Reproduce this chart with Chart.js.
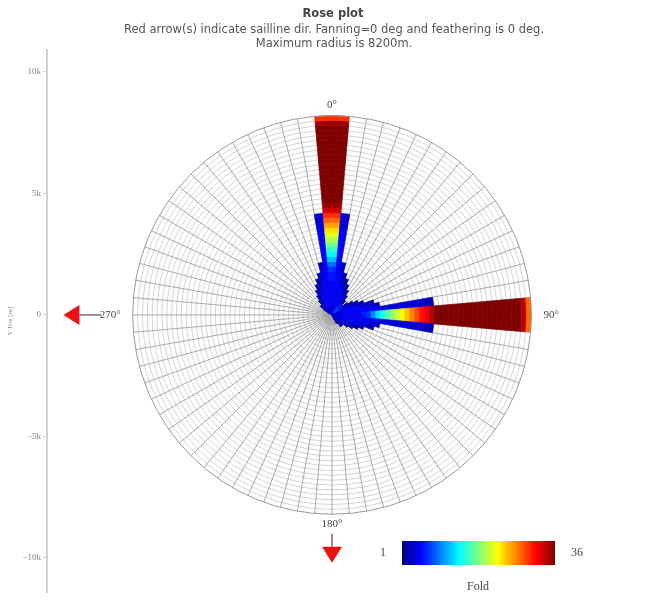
<!DOCTYPE html>
<html>
<head>
<meta charset="utf-8">
<title>Rose plot</title>
<script src="https://cdn.jsdelivr.net/npm/chart.js@4.4.1/dist/chart.umd.min.js"></script>
<style>
html, body { margin: 0; padding: 0; background: #fff; }
#wrap { width: 654px; height: 606px; position: relative; }
</style>
</head>
<body>
<div id="wrap"><canvas id="rose"></canvas></div>
<script>
// Dados do gráfico (fold por célula de 5 graus x 200 m)
const maxRadius = 8200;
const ringStep = 200;
const sectorStep = 5;
const foldMin = 1;
const foldMax = 36;

const yTicks = [-10000, -5000, 0, 5000, 10000];
const yTickLabels = ['−10k', '−5k', '0', '5k', '10k'];

const angleLabelAz = [0, 90, 180, 270];
const angleLabels = ['0°', '90°', '180°', '270°'];

// leque norte: perfil central e perfis laterais (um por setor afastado do eixo)
const northAzimuth = 0;
const northCenter = [4,4,5,5,5,5,5,6,6,7, 9,12,14,16,18,20,22,24,26,28,30,
  33,35,36,36,36,36,36,36,36,36,36,36,36,36,36,36,36,36,35,30];
const northSides = [
  [4,4,5,5,5,5,5,5,5,5,5,5,5,5,5,5,5,5,4,4,4],
  [4,4,5,5,5,5,5,5,5,4,3],
  [4,4,5,5,5,5,4,3,3],
  [4,4,5,5,5,4,3,2],
  [4,4,5,5,4,3,2],
  [4,4,4,4,3,2],
  [4,4,4,3,2],
  [4,4,4,2],
  [4,4,3],
  [4,3,2],
  [3,3],
  [3]
];

// leque leste
const eastAzimuth = 90;
const eastCenter = [4,4,5,5,5,5,6,7,10,13,15,17,19,21,23,25,27,29,31,32,34,
  36,36,36,36,36,36,36,36,36,36,36,36,36,36,36,36,36,36,34,28];
const eastSides = [
  [4,4,5,5,5,5,5,5,5,5,4,4,4,4,4,4,4,4,4,3,3],
  [4,4,5,5,5,5,5,5,4,3],
  [4,4,5,5,5,5,4,3,3],
  [4,4,5,5,4,3,2],
  [4,4,4,4,3,2],
  [4,4,4,3,2],
  [4,4,4,2],
  [4,4,3],
  [4,3,2],
  [3,3,2],
  [3,3],
  [3,2],
  [3]
];

// setas de direção das linhas (azimute, raio da cauda e da ponta em m)
const arrowAz = [270, 180];
const arrowTail = [9500, 9000];
const arrowTip = [11050, 10200];

// Montagem das células
const cells = {};
function addFan(az, profiles) {
  profiles.forEach((prof, k) => {
    [az + sectorStep * k, az - sectorStep * (k + 1)].forEach(s => {
      const key = ((s % 360) + 360) % 360;
      const arr = cells[key] || (cells[key] = []);
      prof.forEach((f, i) => { arr[i] = (arr[i] || 0) + f; });
    });
  });
}
addFan(northAzimuth, [northCenter, ...northSides]);
addFan(eastAzimuth, [eastCenter, ...eastSides]);

function jet(f) {
  const t = Math.min(1, Math.max(0, (f - foldMin) / (foldMax - foldMin)));
  const c = v => Math.round(255 * Math.min(1, Math.max(0, v)));
  return `rgb(${c(1.5 - Math.abs(4 * t - 3))},${c(1.5 - Math.abs(4 * t - 2))},${c(1.5 - Math.abs(4 * t - 1))})`;
}

const rad = d => d * Math.PI / 180;

const rosePlugin = {
  id: 'rose',
  beforeDatasetsDraw(chart) {
    const { ctx, scales: { x, y } } = chart;
    const cx = x.getPixelForValue(0);
    const cy = y.getPixelForValue(0);
    const rx = r => x.getPixelForValue(r) - cx;
    const ry = r => cy - y.getPixelForValue(r);
    const ang = az => rad(az - 90);
    const pt = (az, r) => [x.getPixelForValue(r * Math.sin(rad(az))), y.getPixelForValue(r * Math.cos(rad(az)))];
    const rings = Math.round(maxRadius / ringStep);

    ctx.save();

    // grade polar
    ctx.lineWidth = 1;
    ctx.strokeStyle = '#d4d4d4';
    for (let i = 1; i < rings; i++) {
      ctx.beginPath();
      ctx.ellipse(cx, cy, rx(i * ringStep), ry(i * ringStep), 0, 0, Math.PI * 2);
      ctx.stroke();
    }
    ctx.strokeStyle = '#a2a2a2';
    ctx.lineWidth = 0.9;
    for (let az = 0; az < 360; az += sectorStep) {
      const [px, py] = pt(az, maxRadius);
      ctx.beginPath();
      ctx.moveTo(cx, cy);
      ctx.lineTo(px, py);
      ctx.stroke();
    }

    // células coloridas
    ctx.lineWidth = 0.6;
    Object.keys(cells).forEach(key => {
      const s = +key;
      cells[key].forEach((f, i) => {
        if (!f) return;
        const r0 = i * ringStep, r1 = (i + 1) * ringStep;
        const a0 = ang(s), a1 = ang(s + sectorStep);
        ctx.beginPath();
        ctx.ellipse(cx, cy, rx(r1), ry(r1), 0, a0, a1);
        ctx.ellipse(cx, cy, rx(r0), ry(r0), 0, a1, a0, true);
        ctx.closePath();
        ctx.fillStyle = jet(f);
        ctx.strokeStyle = jet(f);
        ctx.fill();
        ctx.stroke();
      });
    });

    // contorno
    ctx.lineWidth = 1;
    ctx.strokeStyle = '#999';
    ctx.beginPath();
    ctx.ellipse(cx, cy, rx(maxRadius), ry(maxRadius), 0, 0, Math.PI * 2);
    ctx.stroke();

    // rótulos de ângulo
    ctx.font = '11px "Liberation Serif"';
    ctx.fillStyle = '#444';
    angleLabelAz.forEach((az, i) => {
      const side = az === 90 || az === 270;
      const [px, py] = pt(az, side ? 8700 : 8400);
      ctx.textAlign = az === 90 ? 'left' : az === 270 ? 'right' : 'center';
      ctx.textBaseline = az === 0 ? 'bottom' : az === 180 ? 'top' : 'middle';
      ctx.fillText(angleLabels[i], px, py);
    });

    // setas
    arrowAz.forEach((az, i) => {
      const [tx, ty] = pt(az, arrowTail[i]);
      const [hx, hy] = pt(az, arrowTip[i]);
      const len = Math.hypot(hx - tx, hy - ty);
      const ux = (hx - tx) / len, uy = (hy - ty) / len;
      const bx = hx - ux * 16, by = hy - uy * 16;
      ctx.strokeStyle = '#6a3a3a';
      ctx.lineWidth = 1.2;
      ctx.beginPath();
      ctx.moveTo(tx, ty);
      ctx.lineTo(bx, by);
      ctx.stroke();
      ctx.fillStyle = '#ee1111';
      ctx.beginPath();
      ctx.moveTo(hx, hy);
      ctx.lineTo(bx - uy * 10, by + ux * 10);
      ctx.lineTo(bx + uy * 10, by - ux * 10);
      ctx.closePath();
      ctx.fill();
    });

    ctx.restore();
  },
  afterDraw(chart) {
    const { ctx } = chart;
    ctx.save();
    // títulos
    ctx.textAlign = 'center';
    ctx.textBaseline = 'middle';
    ctx.fillStyle = '#444';
    ctx.font = 'bold 11.5px "DejaVu Sans"';
    ctx.fillText('Rose plot', 333, 14);
    ctx.fillStyle = '#555';
    ctx.font = '11.5px "DejaVu Sans"';
    ctx.fillText('Red arrow(s) indicate sailline dir. Fanning=0 deg and feathering is 0 deg.', 334, 30);
    ctx.fillText('Maximum radius is 8200m.', 334, 44);

    // barra de cores
    const x0 = 402, x1 = 555, y0 = 541, h = 24;
    const grad = ctx.createLinearGradient(x0, 0, x1, 0);
    for (let k = 0; k <= 16; k++) {
      grad.addColorStop(k / 16, jet(foldMin + (foldMax - foldMin) * k / 16));
    }
    ctx.fillStyle = grad;
    ctx.fillRect(x0, y0, x1 - x0, h);
    ctx.fillStyle = '#444';
    ctx.font = '12px "Liberation Serif"';
    ctx.fillText(String(foldMin), 383, y0 + h / 2);
    ctx.fillText(String(foldMax), 577, y0 + h / 2);
    ctx.fillText('Fold', 478, 587);
    ctx.restore();
  }
};

const xMin = -11726, xMax = 11849;

new Chart(document.getElementById('rose'), {
  type: 'scatter',
  data: { datasets: [{ data: [], pointRadius: 0 }] },
  options: {
    responsive: true,
    maintainAspectRatio: false,
    animation: false,
    events: [],
    layout: { padding: { left: 0, right: 34, top: 50, bottom: 14 } },
    plugins: { legend: { display: false }, tooltip: { enabled: false } },
    scales: {
      x: { type: 'linear', min: xMin, max: xMax, display: false },
      y: {
        type: 'linear',
        min: -11400,
        max: 10900,
        afterBuildTicks: s => { s.ticks = yTicks.map(v => ({ value: v })); },
        afterFit: s => { s.width = 47; },
        ticks: {
          callback: v => yTickLabels[yTicks.indexOf(v)],
          color: '#888',
          font: { family: 'Liberation Serif', size: 9 },
          padding: 2
        },
        grid: { drawOnChartArea: false, drawTicks: true, tickLength: 4, color: '#d0d0d0' },
        border: { display: true, color: '#d0d0d0', width: 2 },
        title: {
          display: true,
          text: 'Y Pos [m]',
          color: '#888',
          font: { family: 'Liberation Serif', size: 7 },
          padding: { top: 6, bottom: 0 }
        }
      }
    }
  },
  plugins: [rosePlugin]
});
</script>
</body>
</html>
